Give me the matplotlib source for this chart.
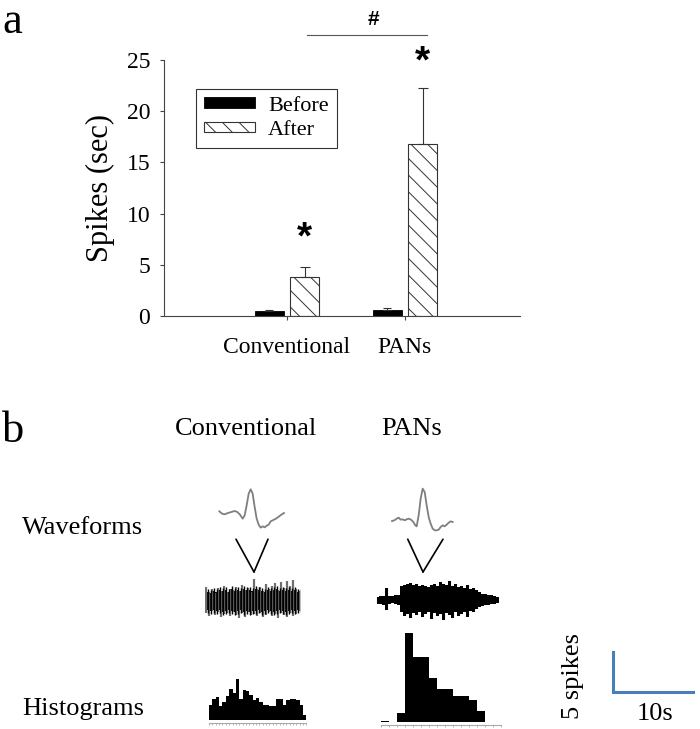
import matplotlib
matplotlib.use("Agg")
import matplotlib.pyplot as plt
import numpy as np
from matplotlib.patches import ConnectionPatch

plt.rcParams['font.family'] = ['Liberation Serif', 'DejaVu Serif']
plt.rcParams['hatch.linewidth'] = 0.7
plt.rcParams['hatch.color'] = '#222222'

W, H = 700, 729

# === Panel a : données ===
groupes = ["Conventional", "PANs"]
avant = [0.45, 0.6]
avant_err = [0.17, 0.15]
apres = [3.85, 16.8]
apres_err = [0.9, 5.5]

# === Panel b : formes d'onde (unités arbitraires) ===
onde_conv_t = [22, 30, 38, 48, 58, 68, 76, 84, 92, 98, 104, 110, 116, 122, 128, 134,
               140, 146, 152, 158, 164, 170, 176, 184, 192, 200, 208, 216]
onde_conv_v = [52, 45, 43, 47, 50, 53, 50, 42, 30, 40, 70, 105, 118, 105, 65, 30,
               12, 3, 7, 4, 9, 12, 22, 26, 30, 36, 42, 47]
onde_pans_t = [18, 25, 32, 38, 44, 50, 56, 62, 68, 75, 82, 88, 92, 98, 104, 110,
               116, 122, 128, 134, 140, 146, 152, 158, 164, 170, 176, 182, 188, 194, 200]
onde_pans_v = [23, 25, 30, 33, 27, 28, 25, 28, 30, 27, 20, 10, 7, 40, 90, 120,
               110, 70, 35, 15, 0, -5, -5, -3, 5, 10, 7, 12, 18, 22, 20]

# === Panel b : enregistrements bruts (enveloppes) ===
conv_pic_haut = [14, 9, 12, 8, 13, 10, 15, 9, 12, 11, 14, 10, 16, 11, 13, 9,
                 22, 12, 14, 10, 17, 12, 15, 18, 11, 19, 13, 20, 15, 21, 12, 10]
conv_corps_haut = [9, 8, 10, 9, 11, 10, 11, 9, 12, 10, 11, 10, 12, 11, 11, 10,
                   12, 11, 10, 9, 11, 10, 11, 12, 10, 11, 10, 11, 10, 11, 9, 9]
conv_corps_bas = [9, 10, 9, 10, 9, 11, 10, 9, 10, 11, 10, 9, 11, 10, 11, 10,
                  10, 9, 11, 10, 9, 10, 11, 10, 9, 10, 11, 10, 9, 10, 9, 8]
conv_pic_bas = [12, 15, 10, 14, 11, 16, 13, 12, 15, 11, 14, 17, 12, 16, 11, 14,
                13, 15, 12, 16, 14, 11, 15, 13, 17, 12, 14, 16, 12, 15, 13, 10]
conv_spike_idx = 16

pans_haut = [3, 4, 4, 12, 4, 4, 5, 5, 14, 15, 16, 17, 15, 16, 14, 15, 14, 13, 15, 16,
             14, 18, 16, 15, 19, 14, 16, 13, 14, 12, 15, 11, 12, 10, 8, 6, 6, 5, 5, 4, 3]
pans_bas = [4, 4, 5, 10, 4, 3, 4, 5, 12, 16, 14, 18, 13, 15, 12, 17, 14, 12, 19, 13,
            16, 14, 20, 13, 15, 18, 12, 16, 14, 12, 17, 11, 12, 9, 7, 6, 5, 5, 4, 4, 3]
pans_spike_idx = 15

# === Panel b : histogrammes (spikes par bin) ===
hist_conv = [1.9, 2.6, 2.9, 1.8, 2.3, 3.0, 3.9, 3.4, 5.1, 2.6, 3.8, 3.6, 3.1, 2.5, 2.8,
             2.3, 1.9, 1.9, 1.8, 1.8, 2.6, 2.6, 1.9, 2.5, 2.6, 2.6, 2.5, 1.9, 0.6]
hist_pans = [0.15, 0, 1.1, 11.1, 8.1, 8.1, 5.5, 4.1, 4.1, 3.3, 3.3, 2.8, 1.4, 0, 0]
bin_conv_s = 0.42
bin_pans_s = 1.0
echelle_spikes = 5
echelle_s = 10

PX_PAR_S = 8.0
PX_PAR_SPIKE = 8.0


def px_axes(gauche, haut, largeur, hauteur):
    a = fig.add_axes([gauche / W, 1 - (haut + hauteur) / H, largeur / W, hauteur / H])
    return a


fig = plt.figure(figsize=(W / 100, H / 100), dpi=100)

# === Panel a ===
ax = px_axes(164, 60, 356, 256)
pos = np.array([1, 2])
larg = 0.246
b1 = ax.bar(pos - 0.15, avant, larg, color='black', edgecolor='black', linewidth=0.6, label='Before')
b2 = ax.bar(pos + 0.15, apres, larg, facecolor='white', edgecolor='#333333', hatch='\\\\',
            linewidth=0.8, label='After')
ax.errorbar(pos - 0.15, avant, yerr=[[0, 0], avant_err], fmt='none', ecolor='#333333',
            elinewidth=0.8, capsize=3, capthick=0.8)
ax.errorbar(pos + 0.15, apres, yerr=[[0, 0], apres_err], fmt='none', ecolor='#333333',
            elinewidth=0.8, capsize=3.5, capthick=0.8)

ax.set_xlim(-0.042, 2.975)
ax.set_ylim(0, 25)
ax.set_yticks([0, 5, 10, 15, 20, 25])
ax.set_xticks(pos)
ax.set_xticklabels(groupes)
ax.tick_params(axis='x', length=3, width=0.8, pad=12, labelsize=17, color='#444444')
ax.tick_params(axis='y', length=3, width=0.8, pad=7, labelsize=17, color='#444444')
for s in ['top', 'right']:
    ax.spines[s].set_visible(False)
for s in ['left', 'bottom']:
    ax.spines[s].set_color('#444444')
    ax.spines[s].set_linewidth(0.8)
ax.set_ylabel("Spikes (sec)", fontsize=22, labelpad=8)

# étoiles et dièse
ax.text(pos[0] + 0.15, 7.6, '*', ha='center', va='center', fontsize=28,
        fontweight='bold', family='Liberation Sans')
ax.text(pos[1] + 0.15, 24.8, '*', ha='center', va='center', fontsize=28,
        fontweight='bold', family='Liberation Sans', clip_on=False)
ax.plot([1.17, 2.19], [27.4, 27.4], color='#555555', lw=0.8, clip_on=False)
ax.text(1.73, 29.0, '#', ha='center', va='center', fontsize=15,
        fontweight='bold', family='Liberation Sans')

leg = ax.legend(handles=[b1, b2], loc='upper left', bbox_to_anchor=(0.09, 0.887),
                fontsize=16, frameon=True, fancybox=False, edgecolor='black',
                handlelength=2.3, handleheight=0.35, handletextpad=0.6,
                labelspacing=0.23, borderpad=0.35, borderaxespad=0)
leg.get_frame().set_linewidth(0.8)

fig.text(2 / W, 1 - 33 / H, 'a', fontsize=32, va='baseline', ha='left')

# === Panel b ===
fig.text(2 / W, 1 - 442 / H, 'b', fontsize=32, va='baseline', ha='left')
fig.text(246 / W, 1 - 435 / H, 'Conventional', fontsize=19, va='baseline', ha='center')
fig.text(412 / W, 1 - 435 / H, 'PANs', fontsize=19, va='baseline', ha='center')
fig.text(22 / W, 1 - 534 / H, 'Waveforms', fontsize=19, va='baseline', ha='left')
fig.text(22 / W, 1 - 715 / H, 'Histograms', fontsize=19, va='baseline', ha='left')

# formes d'onde
aw1 = px_axes(212, 482, 80, 52)
aw1.plot(onde_conv_t, onde_conv_v, color='#7f7f7f', lw=1.3)
aw1.set_xlim(0, 240)
aw1.set_ylim(-16, 140)
aw1.axis('off')

aw2 = px_axes(386, 482, 75, 52)
aw2.plot(onde_pans_t, onde_pans_v, color='#7f7f7f', lw=1.3)
aw2.set_xlim(0, 225)
aw2.set_ylim(-16, 140)
aw2.axis('off')

# enregistrements bruts
at1 = px_axes(204.5, 571, 96, 60)
i1 = np.arange(len(conv_corps_haut))
at1.vlines(i1, -np.array(conv_pic_bas), conv_pic_haut, color='#6e6e6e', lw=1.6)
at1.fill_between(i1, -np.array(conv_corps_bas), conv_corps_haut, step='mid',
                 color='black', lw=0)
at1.vlines(i1 + 0.5, -np.array(conv_corps_bas) - 3, np.array(conv_corps_haut) + 3,
           color='black', lw=1.0)
at1.set_xlim(-0.5, len(i1) - 0.5)
at1.set_ylim(-30, 30)
at1.axis('off')

at2 = px_axes(376.5, 570, 123, 60)
i2 = np.arange(len(pans_haut))
at2.fill_between(i2, -np.array(pans_bas), pans_haut, step='mid', color='black', lw=0)
at2.vlines(i2, -np.array(pans_bas), pans_haut, color='black', lw=1.5)
at2.set_xlim(-0.5, len(i2) - 0.5)
at2.set_ylim(-30, 30)
at2.axis('off')

# lignes de zoom (V)
for at, idx, sommet, aw, fx in [(at1, conv_spike_idx, 29, aw1, (0.3, 0.7)),
                                (at2, pans_spike_idx, 28, aw2, (0.29, 0.76))]:
    for f in fx:
        cp = ConnectionPatch(xyA=(idx, sommet), coordsA=at.transData,
                             xyB=(f, -0.1), coordsB=aw.transAxes,
                             color='black', lw=1.2)
        fig.add_artist(cp)

# histogrammes
def histo(gauche, base, valeurs, largeur_bin):
    n = len(valeurs)
    larg_px = n * largeur_bin * PX_PAR_S
    ah = px_axes(gauche, base - 12 * PX_PAR_SPIKE, larg_px, 12 * PX_PAR_SPIKE)
    bords = np.arange(n) * largeur_bin
    ah.bar(bords, valeurs, width=largeur_bin, align='edge', color='black', lw=0)
    ah.set_xlim(0, n * largeur_bin)
    ah.set_ylim(0, 12)
    for s in ['top', 'right', 'left']:
        ah.spines[s].set_visible(False)
    ah.spines['bottom'].set_position(('outward', 2.5))
    ah.spines['bottom'].set_color('#aaaaaa')
    ah.spines['bottom'].set_linewidth(0.8)
    ah.set_yticks([])
    ah.set_xticks(np.arange(n + 1) * largeur_bin)
    ah.tick_params(axis='x', length=1.5, width=0.6, color='#aaaaaa', labelbottom=False)
    return ah

histo(209, 720, hist_conv, bin_conv_s)
histo(381, 722, hist_pans, bin_pans_s)

# barre d'échelle
ae = px_axes(613, 692 - 6 * PX_PAR_SPIKE, 12 * PX_PAR_S, 6 * PX_PAR_SPIKE)
ae.plot([0, 0, echelle_s], [echelle_spikes, 0, 0], color='#4a7ebb', lw=2.2,
        solid_joinstyle='miter', clip_on=False)
ae.set_xlim(0, 12)
ae.set_ylim(0, 6)
ae.axis('off')
fig.text(573 / W, 1 - 676 / H, '5 spikes', fontsize=19, rotation=90, ha='center', va='center')
fig.text(655 / W, 1 - 720 / H, '10s', fontsize=19, ha='center', va='baseline')

fig.savefig("out.png", dpi=100)
